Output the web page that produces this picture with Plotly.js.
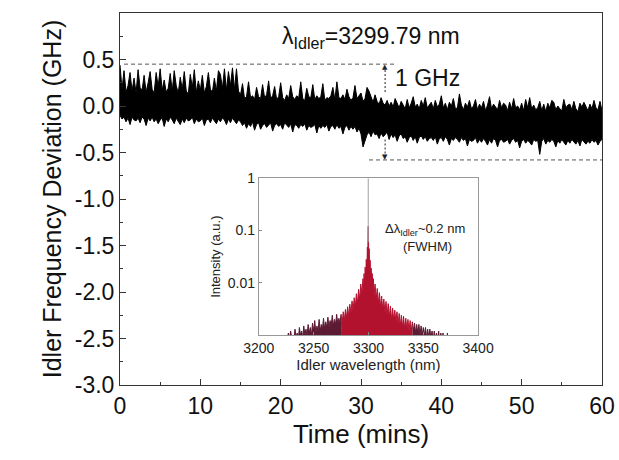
<!DOCTYPE html>
<html>
<head>
<meta charset="utf-8">
<script src="https://cdn.plot.ly/plotly-3.0.1.min.js"></script>
<style>html,body{margin:0;padding:0;background:#fff;}#chart{width:619px;height:460px;}</style>
</head>
<body>
<div id="chart"></div>
<script>
// ---- Main time series: upper and lower edges of the noise band (GHz) vs time (mins) ----
const timeMins = [
0,0.25,0.5,0.75,1,1.25,1.5,1.75,2,2.25,2.5,2.75,3,3.25,3.5,3.75,4,4.25,4.5,4.75,
5,5.25,5.5,5.75,6,6.25,6.5,6.75,7,7.25,7.5,7.75,8,8.25,8.5,8.75,9,9.25,9.5,9.75,
10,10.25,10.5,10.75,11,11.25,11.5,11.75,12,12.25,12.5,12.75,13,13.25,13.5,13.75,14,14.25,14.5,14.75,
15,15.25,15.5,15.75,16,16.25,16.5,16.75,17,17.25,17.5,17.75,18,18.25,18.5,18.75,19,19.25,19.5,19.75,
20,20.25,20.5,20.75,21,21.25,21.5,21.75,22,22.25,22.5,22.75,23,23.25,23.5,23.75,24,24.25,24.5,24.75,
25,25.25,25.5,25.75,26,26.25,26.5,26.75,27,27.25,27.5,27.75,28,28.25,28.5,28.75,29,29.25,29.5,29.75,
30,30.25,30.5,30.75,31,31.25,31.5,31.75,32,32.25,32.5,32.75,33,33.25,33.5,33.75,34,34.25,34.5,34.75,
35,35.25,35.5,35.75,36,36.25,36.5,36.75,37,37.25,37.5,37.75,38,38.25,38.5,38.75,39,39.25,39.5,39.75,
40,40.25,40.5,40.75,41,41.25,41.5,41.75,42,42.25,42.5,42.75,43,43.25,43.5,43.75,44,44.25,44.5,44.75,
45,45.25,45.5,45.75,46,46.25,46.5,46.75,47,47.25,47.5,47.75,48,48.25,48.5,48.75,49,49.25,49.5,49.75,
50,50.25,50.5,50.75,51,51.25,51.5,51.75,52,52.25,52.5,52.75,53,53.25,53.5,53.75,54,54.25,54.5,54.75,
55,55.25,55.5,55.75,56,56.25,56.5,56.75,57,57.25,57.5,57.75,58,58.25,58.5,58.75,59,59.25,59.5,59.75,
60];
const devUpperGHz = [
0.44,0.18,0.38,0.15, 0.22,0.36,0.16,0.30, 0.14,0.39,0.20,0.17, 0.33,0.15,0.25,0.37, 0.18,0.14,0.36,0.21,
0.40,0.17,0.28,0.15, 0.19,0.35,0.16,0.38, 0.22,0.14,0.31,0.18, 0.37,0.16,0.13,0.34, 0.20,0.39,0.15,0.27,
0.17,0.33,0.14,0.21, 0.36,0.18,0.15,0.30, 0.16,0.38,0.34,0.19, 0.40,0.17,0.37,0.22, 0.41,0.18,0.40,0.16,
0.12,0.24,0.08,0.10, 0.26,0.09,0.11,0.07, 0.20,0.10,0.08,0.23, 0.09,0.12,0.27,0.08, 0.11,0.21,0.07,0.10,
0.25,0.09,0.06,0.12, 0.08,0.22,0.10,0.07, 0.11,0.09,0.26,0.08, 0.06,0.19,0.10,0.09, 0.23,0.07,0.11,0.08,
0.10,0.24,0.06,0.09, 0.08,0.11,0.20,0.07, 0.26,0.09,0.08,0.12, 0.07,0.18,0.10,0.06, 0.09,0.22,0.08,0.11,
0.14,0.05,0.08,0.20, 0.16,0.10,0.04,0.12, 0.05,0.02,0.09,0.03, 0.01,0.06,0.00,0.04, -0.01,0.08,0.02,-0.02,
0.05,0.00,-0.03,0.07, -0.02,0.03,0.10,-0.01, 0.02,-0.03,0.06,0.00, 0.09,-0.02,0.01,0.04, -0.03,0.06,-0.01,0.02,
0.11,-0.02,0.03,-0.04, 0.04,0.00,0.08,-0.03, -0.02,0.13,0.01,-0.04, 0.03,-0.01,0.06,-0.03, 0.00,0.07,-0.04,0.02,
-0.02,0.05,-0.05,0.01, 0.10,-0.03,0.02,-0.01, -0.04,0.06,-0.02,0.03, 0.01,-0.05,0.04,-0.03, 0.08,-0.02,0.00,-0.04,
0.03,-0.05,0.07,-0.02, 0.09,-0.03,0.01,-0.04, -0.02,0.05,-0.05,0.02, -0.06,0.03,-0.02,0.06, 0.04,-0.04,0.00,-0.03,
-0.05,0.07,-0.02,0.01, 0.02,-0.04,0.05,-0.03, -0.06,0.03,-0.01,0.04, 0.00,-0.05,0.02,-0.03, 0.06,-0.02,-0.04,0.05,
-0.05];
const devLowerGHz = [
-0.10,-0.14,-0.12,-0.17, -0.13,-0.20,-0.12,-0.15, -0.16,-0.13,-0.18,-0.12, -0.14,-0.21,-0.13,-0.16, -0.12,-0.17,-0.14,-0.19,
-0.15,-0.13,-0.22,-0.14, -0.17,-0.12,-0.15,-0.19, -0.13,-0.16,-0.20,-0.14, -0.18,-0.13,-0.16,-0.15, -0.12,-0.19,-0.14,-0.17,
-0.16,-0.13,-0.21,-0.15, -0.14,-0.18,-0.13,-0.16, -0.19,-0.14,-0.17,-0.13, -0.15,-0.20,-0.14,-0.18, -0.13,-0.16,-0.19,-0.15,
-0.17,-0.21,-0.18,-0.24, -0.19,-0.22,-0.17,-0.26, -0.20,-0.18,-0.25,-0.21, -0.19,-0.23,-0.20,-0.18, -0.27,-0.21,-0.19,-0.22,
-0.20,-0.25,-0.18,-0.21, -0.23,-0.19,-0.28,-0.20, -0.21,-0.24,-0.20,-0.22, -0.19,-0.26,-0.21,-0.23, -0.22,-0.20,-0.29,-0.21,
-0.24,-0.21,-0.23,-0.20, -0.27,-0.22,-0.21,-0.25, -0.20,-0.24,-0.22,-0.30, -0.23,-0.21,-0.26,-0.22, -0.25,-0.22,-0.28,-0.24,
-0.30,-0.44,-0.36,-0.31, -0.28,-0.33,-0.27,-0.31, -0.30,-0.35,-0.29,-0.33, -0.31,-0.28,-0.36,-0.30, -0.34,-0.31,-0.38,-0.32,
-0.30,-0.35,-0.33,-0.39, -0.34,-0.32,-0.37,-0.33, -0.40,-0.34,-0.32,-0.36, -0.33,-0.38,-0.35,-0.34, -0.37,-0.33,-0.41,-0.35,
-0.34,-0.38,-0.33,-0.36, -0.42,-0.35,-0.37,-0.34, -0.36,-0.39,-0.34,-0.37, -0.35,-0.43,-0.36,-0.38, -0.37,-0.34,-0.40,-0.36,
-0.39,-0.35,-0.38,-0.42, -0.36,-0.40,-0.35,-0.37, -0.44,-0.37,-0.36,-0.39, -0.38,-0.36,-0.41,-0.37, -0.35,-0.39,-0.37,-0.45,
-0.38,-0.36,-0.40,-0.37, -0.39,-0.42,-0.36,-0.38, -0.37,-0.52,-0.38,-0.35, -0.41,-0.37,-0.39,-0.36, -0.38,-0.44,-0.37,-0.40,
-0.36,-0.39,-0.42,-0.37, -0.40,-0.36,-0.38,-0.41, -0.37,-0.43,-0.36,-0.39, -0.41,-0.38,-0.40,-0.36, -0.39,-0.37,-0.42,-0.38,
-0.36];

// ---- Inset spectrum (wavelength nm, intensity a.u.) ----
const wlWingLeft = [3226,3227,3228,3229,3230,3231,3232,3233,3234,3235,3236,3237,3238,3239,3240,3241,3242,3243,3244,3245,
3246,3247,3248,3249,3250,3251,3252,3253,3254,3255,3256,3257,3258,3259,3260,3261,3262,3263,3264,3265,
3266,3267,3268,3269,3270,3271,3272,3273,3274,3275];
const intWingLeft = [0.0009,0.0011,0.0008,0.0012,0.0009,0.0010,0.0008,0.0013,0.0009,0.0011,0.0008,0.0014,0.0010,0.0012,0.0009,0.0015,0.0010,0.0013,0.0010,0.0016,
0.0011,0.0014,0.0010,0.0017,0.0012,0.0019,0.0011,0.0015,0.0012,0.0020,0.0012,0.0016,0.0013,0.0021,0.0013,0.0018,0.0014,0.0022,0.0014,0.0019,
0.0015,0.0024,0.0015,0.0020,0.0016,0.0025,0.0016,0.0021,0.0017,0.0025];
const wlCore = [3275,3276,3277,3278,3279,3280,3281,3282,3283,3284,3285,3286,3287,3288,3289,3290,3291,3292,3293,3294,3295,
3295.5,3296,3296.5,3297,3297.5,3298,3298.5,3299,3299.3,3299.6,3299.79,3300,3300.3,3300.6,3301,3301.5,3302,3302.5,3303,3303.5,3304,3304.5,3305,
3306,3307,3308,3309,3310,3311,3312,3313,3314,3315,3316,3317,3318,3319,3320,3321,3322,3323,3324,3325,
3326,3327,3328,3329,3330,3331,3332,3333,3334,3335,3336,3337,3338,3339,3340];
const intCore = [0.0025,0.0017,0.0028,0.0019,0.0031,0.0021,0.0035,0.0023,0.0039,0.0026,0.0045,0.0030,0.0052,0.0034,0.0062,0.0040,0.0075,0.0048,0.0095,0.0060,0.0120,
0.0075,0.0150,0.0090,0.020,0.012,0.028,0.016,0.048,0.026,0.085,0.12,0.080,0.026,0.045,0.016,0.027,0.011,0.019,0.0085,0.015,0.0068,0.012,0.0058,
0.0095,0.0048,0.0078,0.0040,0.0065,0.0034,0.0056,0.0030,0.0049,0.0027,0.0044,0.0024,0.0040,0.0022,0.0036,0.0020,0.0033,0.0019,0.0030,0.0018,
0.0028,0.0016,0.0026,0.0015,0.0024,0.0014,0.0023,0.0013,0.0021,0.0013,0.0020,0.0012,0.0019,0.0012,0.0018];
const wlWingRight = [3340,3341,3342,3343,3344,3345,3346,3347,3348,3349,3350,3351,3352,3353,3354,3355,3356,3357,3358,3359,
3360,3361,3362,3363,3364,3365,3366,3367,3368,3369,3370,3371,3372,3373,3374,3375];
const intWingRight = [0.0018,0.0012,0.0017,0.0011,0.0016,0.0011,0.0016,0.0010,0.0015,0.0010,0.0014,0.0010,0.0014,0.0009,0.0013,0.0009,0.0013,0.0009,0.0012,0.0008,
0.0012,0.0008,0.0011,0.0008,0.0012,0.0007,0.0011,0.0007,0.0011,0.0006,0.0010,0.0006,0.0011,0.0005,0.0010,0.0005];
const wlPeak = [3299.79, 3299.79];
const intPeak = [0.06, 1];

// ---- Tick labels ----
const mainYTicks = [-3.0,-2.5,-2.0,-1.5,-1.0,-0.5,0.0,0.5];
const mainYTickText = ['-3.0','-2.5','-2.0','-1.5','-1.0','-0.5','0.0','0.5'];
const mainXTicks = [0,10,20,30,40,50,60];
const insetXTicks = [3200,3250,3300,3350,3400];
const insetYTicks = [0.01,0.1,1];
const insetYTickText = ['0.01','0.1','1'];

const FONT = '"Liberation Sans", Arial, sans-serif';
const MAROON = '#5c1a33', RED = '#b3122f';

const traces = [
  {x: timeMins, y: devLowerGHz, type:'scatter', mode:'lines', line:{color:'#000', width:1}, xaxis:'x', yaxis:'y'},
  {x: timeMins, y: devUpperGHz, type:'scatter', mode:'lines', line:{color:'#000', width:1}, fill:'tonexty', fillcolor:'#000', xaxis:'x', yaxis:'y'},
  {x: wlWingLeft, y: intWingLeft, type:'scatter', mode:'lines', line:{color:MAROON, width:1}, fill:'tozeroy', fillcolor:MAROON, xaxis:'x2', yaxis:'y2'},
  {x: wlWingRight, y: intWingRight, type:'scatter', mode:'lines', line:{color:MAROON, width:1}, fill:'tozeroy', fillcolor:MAROON, xaxis:'x2', yaxis:'y2'},
  {x: wlCore, y: intCore, type:'scatter', mode:'lines', line:{color:RED, width:1}, fill:'tozeroy', fillcolor:RED, xaxis:'x2', yaxis:'y2'},
  {x: wlPeak, y: intPeak, type:'scatter', mode:'lines', line:{color:'#a0a0a0', width:1}, xaxis:'x2', yaxis:'y2'}
];

const layout = {
  width: 619, height: 460,
  margin: {l:120, r:17, t:13, b:75},
  paper_bgcolor:'#fff', plot_bgcolor:'#fff',
  showlegend:false,
  font:{family:FONT, color:'#111'},
  xaxis: {
    range:[0,60], tickvals: mainXTicks, ticks:'inside', ticklen:6, tickcolor:'#333',
    minor:{dtick:5, ticks:'inside', ticklen:3, tickcolor:'#333'},
    showline:true, linecolor:'#333', linewidth:1, mirror:true, showgrid:false, zeroline:false,
    tickfont:{size:23, family:FONT, color:'#111'},
    title:{text:'Time (mins)', font:{size:26, family:FONT, color:'#111'}, standoff:4}
  },
  yaxis: {
    range:[-3,1.0], tickvals: mainYTicks, ticktext: mainYTickText, ticks:'inside', ticklen:6, tickcolor:'#333',
    minor:{dtick:0.25, ticks:'inside', ticklen:3, tickcolor:'#333'},
    showline:true, linecolor:'#333', linewidth:1, mirror:true, showgrid:false, zeroline:false,
    tickfont:{size:23, family:FONT, color:'#111'},
    title:{text:'Idler Frequency Deviation (GHz)', font:{size:25, family:FONT, color:'#111'}, standoff:6}
  },
  xaxis2: {
    domain:[0.288,0.743], anchor:'y2', range:[3200,3400], tickvals: insetXTicks, ticks:'inside', ticklen:3, tickcolor:'#888',
    showline:true, linecolor:'#999', linewidth:1, mirror:true, showgrid:false, zeroline:false,
    tickfont:{size:14, family:FONT, color:'#222'},
    title:{text:'Idler wavelength (nm)', font:{size:15, family:FONT, color:'#222'}, standoff:2}
  },
  yaxis2: {
    domain:[0.134,0.556], anchor:'x2', type:'log', range:[-3,0], tickvals: insetYTicks, ticktext: insetYTickText,
    ticks:'inside', ticklen:3, tickcolor:'#888',
    showline:true, linecolor:'#999', linewidth:1, mirror:true, showgrid:false, zeroline:false,
    tickfont:{size:14, family:FONT, color:'#222'},
    title:{text:'Intensity (a.u.)', font:{size:13, family:FONT, color:'#222'}, standoff:4}
  },
  shapes: [
    {type:'line', xref:'x', yref:'y', x0:0.5, x1:34.5, y0:0.45, y1:0.45, line:{color:'#555', width:1, dash:'4px,3px'}},
    {type:'line', xref:'x', yref:'y', x0:31, x1:60, y0:-0.58, y1:-0.58, line:{color:'#555', width:1, dash:'4px,3px'}},
    {type:'line', xref:'x', yref:'y', x0:33, x1:33, y0:0.15, y1:0.40, line:{color:'#222', width:1, dash:'2px,2px'}},
    {type:'line', xref:'x', yref:'y', x0:33, x1:33, y0:-0.36, y1:-0.53, line:{color:'#222', width:1, dash:'2px,2px'}}
  ],
  annotations: [
    {xref:'x', yref:'y', x:31.2, y:0.74, text:'λ<sub>Idler</sub>=3299.79 nm', showarrow:false, font:{size:23, family:FONT, color:'#111'}},
    {xref:'x', yref:'y', x:34.0, y:0.30, xanchor:'left', text:'1 GHz', showarrow:false, font:{size:23, family:FONT, color:'#111'}},
    {xref:'x', yref:'y', x:33, y:0.42, text:'▲', showarrow:false, font:{size:7, family:'DejaVu Sans', color:'#222'}},
    {xref:'x', yref:'y', x:33, y:-0.55, text:'▼', showarrow:false, font:{size:7, family:'DejaVu Sans', color:'#222'}},
    {xref:'x2', yref:'y2', x:3313, y:-0.98, xanchor:'left', text:'Δλ<sub>Idler</sub>~0.2 nm', showarrow:false, font:{size:13, family:FONT, color:'#222'}},
    {xref:'x2', yref:'y2', x:3354, y:-1.31, text:'(FWHM)', showarrow:false, font:{size:13, family:FONT, color:'#222'}}
  ]
};

Plotly.newPlot('chart', traces, layout, {staticPlot:true, displayModeBar:false});
</script>
</body>
</html>
